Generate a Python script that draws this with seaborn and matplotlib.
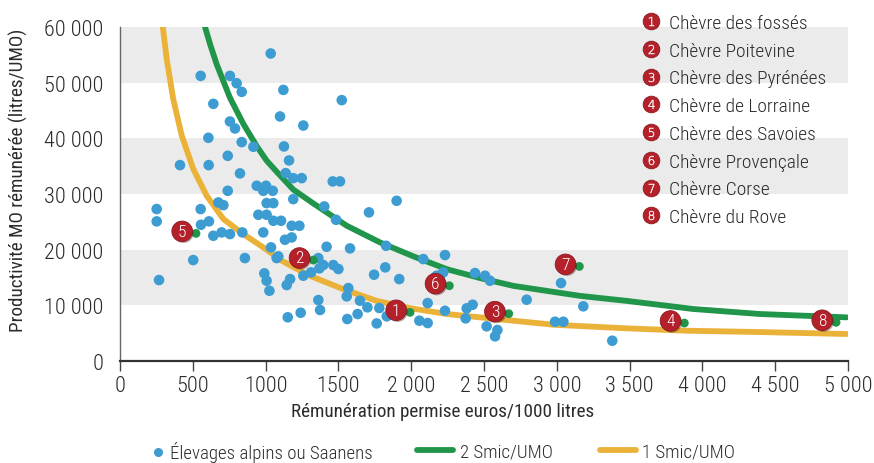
import matplotlib
matplotlib.use("Agg")
import matplotlib.pyplot as plt
import seaborn as sns
import pandas as pd
from matplotlib.lines import Line2D
from matplotlib import font_manager as fm
from matplotlib.ticker import FixedLocator, FixedFormatter, FuncFormatter
import matplotlib.patheffects as pe

# ---------------- data ----------------
alpine_x = [1035, 554, 755, 801, 836, 1122, 1523, 641, 1099, 1259, 755, 790, 607, 836, 916,
            1126, 1161, 740, 412, 609, 824, 1138, 1190, 1248, 1461, 1511, 939, 1003, 984, 1049,
            740, 1190, 1900, 1403, 1007, 1053, 675, 710, 252, 554,
            252, 556, 611, 1710, 950, 1007, 1053, 1106, 1179, 1232, 1484, 641, 698, 755, 840,
            984, 1133, 1179, 1037, 1419, 1580, 1827, 503, 858, 1076, 1087, 1362, 1396, 1369, 1465,
            1500, 1312, 1259, 1168, 1145, 991, 1007, 1026, 268, 1745, 1822, 1918, 1568, 1557, 1648,
            1362, 1374, 1241, 1152, 1561, 1632, 1699, 1781, 1763, 1832, 2056, 2113, 2113, 2083, 2175,
            2232, 2163, 2198, 2220, 2438, 2507, 2541, 2793, 3029, 3182, 2232, 2381, 2422, 2374, 2518,
            2592, 2576, 2988, 3045, 3381]
alpine_y = [55240, 51220, 51220, 49900, 48350, 48700, 46860, 46200, 43930, 42300, 43030, 41770, 40100, 39320, 38480,
            38540, 36030, 36860, 35190, 35190, 33700, 33750, 32850, 32850, 32260, 32260, 31480, 31480, 30580, 30580,
            30580, 29080, 28780, 27770, 28360, 28360, 28480, 28000, 27300, 27290,
            25080, 24470, 25080, 26700, 26270, 26270, 25190, 25190, 24290, 24290, 25370, 22500, 23100, 22800, 23100,
            23100, 21780, 22200, 20410, 20520, 20230, 20700, 18130, 18490, 18490, 18800, 18490, 17240, 16640, 17240,
            16520, 15920, 15320, 14720, 13640, 15740, 14420, 12620, 14540, 15500, 16820, 14720, 13100, 11610, 10830,
            10950, 9160, 8670, 7850, 7540, 8440, 9640, 9520, 6750, 8030, 7240, 6820, 10410, 18310, 15320,
            19030, 15030, 15320, 15920, 15800, 15320, 14420, 11010, 14000, 9820, 9030, 9460, 10110, 7660, 6230,
            5570, 4430, 7050, 7050, 3640]

breed_ids = ["1", "2", "3", "4", "5", "6", "7", "8"]
breed_names = ["Chèvre des fossés", "Chèvre Poitevine", "Chèvre des Pyrénées", "Chèvre de Lorraine",
               "Chèvre des Savoies", "Chèvre Provençale", "Chèvre Corse", "Chèvre du Rove"]
breed_x = [1992, 1328, 2670, 3876, 522, 2262, 3155, 4918]
breed_y = [8740, 18130, 8500, 6820, 22920, 13520, 16990, 6950]

smic2_x = [584, 620, 664, 755, 847, 939, 1007, 1076, 1190, 1328, 1557, 1786, 2015, 2244, 2473,
           2701, 2930, 3159, 3480, 3938, 4396, 4991]
smic2_y = [60000, 56800, 53300, 47300, 42600, 38600, 36000, 34000, 30800, 28300, 24300, 21300, 18800, 16500, 14900,
           13500, 12600, 11700, 10800, 9340, 8440, 7840]

smic1_x = [293, 321, 366, 424, 503, 595, 710, 847, 1007, 1099, 1168, 1305, 1534, 1763, 1992,
           2244, 2473, 2701, 2976, 3434, 3892, 4396, 4991]
smic1_y = [60200, 54200, 47000, 40500, 34500, 29700, 25500, 22800, 20000, 18200, 17200, 15300, 12900, 10800, 9500,
           8440, 7840, 7240, 6520, 5920, 5440, 5200, 4850]

y_ticks = [0, 10000, 20000, 30000, 40000, 50000, 60000]
x_ticks = [0, 500, 1000, 1500, 2000, 2500, 3000, 3500, 4000, 4500, 5000]
x_tick_labels = ["0", "500", "1000", "1500", "2 000", "2 500", "3 000", "3 500", "4 000", "4 500", "5 000"]

series_labels = ["Élevages alpins ou Saanens", "2 Smic/UMO", "1 Smic/UMO"]

# ---------------- style ----------------
BLUE = "#3d9cd2"
GREEN = "#21964a"
ORANGE = "#ebb23a"
RED = "#b5212b"
BAND = "#ebebeb"
TXT = "#2b2b2b"

sns.set_style("white")
names = {f.name for f in fm.fontManager.ttflist}
cond_dejavu = any(f.name == "DejaVu Sans" and f.stretch == "condensed" for f in fm.fontManager.ttflist)
FONT, STRETCH, SCALE = "DejaVu Sans", "normal", 0.85
for cand in ["Roboto Condensed", "Open Sans Condensed", "Liberation Sans Narrow"]:
    if cand in names:
        FONT, STRETCH, SCALE = cand, "normal", 1.0
        break
else:
    if cond_dejavu:
        FONT, STRETCH, SCALE = "DejaVu Sans", "condensed", 0.92
plt.rcParams["font.family"] = [FONT, "DejaVu Sans"]
plt.rcParams["font.stretch"] = STRETCH
plt.rcParams["font.weight"] = "light"

fs_tick = 16.0 * SCALE
fs_lab = 13.8 * SCALE
fs_leg = 14.0 * SCALE
fs_bot = 13.6 * SCALE

fig = plt.figure(figsize=(8.74, 4.64), dpi=100)
ax = fig.add_axes([120 / 874, 1 - 362 / 464, 728 / 874, 334 / 464])

for lo in (10000, 30000, 50000):
    ax.axhspan(lo, lo + 10000, color=BAND, lw=0, zorder=0)

curves = pd.DataFrame({"x": smic2_x, "y": smic2_y})
sns.lineplot(data=curves, x="x", y="y", ax=ax, color=GREEN, lw=4.2, estimator=None,
             solid_capstyle="round", zorder=2)
curves1 = pd.DataFrame({"x": smic1_x, "y": smic1_y})
sns.lineplot(data=curves1, x="x", y="y", ax=ax, color=ORANGE, lw=4.2, estimator=None,
             solid_capstyle="round", zorder=2)

pts = pd.DataFrame({"x": alpine_x, "y": alpine_y})
sns.scatterplot(data=pts, x="x", y="y", ax=ax, color=BLUE, s=58, edgecolor="none", zorder=3)

breeds = pd.DataFrame({"x": breed_x, "y": breed_y, "id": breed_ids})
sns.scatterplot(data=breeds, x="x", y="y", ax=ax, color=GREEN, s=40, edgecolor="none", zorder=4)
for bid, bx, by in zip(breed_ids, breed_x, breed_y):
    ax.annotate(bid, xy=(bx, by), xytext=(-10, 1.5), textcoords="offset points",
                ha="center", va="center", color="white", fontsize=12.5 * SCALE, zorder=6,
                bbox=dict(boxstyle="circle,pad=0.16", fc=RED, ec="#8a1a20", lw=0.6,
                          path_effects=[pe.SimplePatchShadow(offset=(1, -1), alpha=0.35), pe.Normal()]))

ax.set_xlim(0, 5000)
ax.set_ylim(0, 60000)
ax.xaxis.set_major_locator(FixedLocator(x_ticks))
ax.xaxis.set_major_formatter(FixedFormatter(x_tick_labels))
ax.yaxis.set_major_locator(FixedLocator(y_ticks))
ax.yaxis.set_major_formatter(FuncFormatter(lambda v, p: f"{int(v):,}".replace(",", " ")))
ax.tick_params(axis="x", direction="out", length=7, width=1, color="#444", pad=3,
               labelsize=fs_tick, labelcolor=TXT, bottom=True)
ax.tick_params(axis="y", length=0, pad=12, labelsize=fs_tick, labelcolor=TXT)
for s in ("top", "right"):
    ax.spines[s].set_visible(False)
ax.spines["left"].set_color("#666")
ax.spines["left"].set_linewidth(1.0)
ax.spines["bottom"].set_color("#333")
ax.spines["bottom"].set_linewidth(1.6)
ax.set_xlabel("Rémunération permise euros/1000 litres", fontsize=fs_lab, color=TXT)
ax.set_ylabel("Productivité MO rémunérée (litres/UMO)", fontsize=fs_lab, color=TXT)
ax.xaxis.set_label_coords((443 - 120) / 728, (362 - 403) / 334)
ax.yaxis.set_label_coords((28 - 120) / 728, (362 - 180) / 334)

# numbered breed legend (top right)
handles = []
for bid in breed_ids:
    handles.append((Line2D([], [], ls="", marker="o", ms=12, mfc=RED, mec="#8a1a20", mew=0.6),
                    Line2D([], [], ls="", marker=f"${bid}$", ms=6.5, mfc="white", mec="white", mew=0.3)))
leg = ax.legend(handles, breed_names, loc="upper left", bbox_to_anchor=(641 / 874, 1 - 15 / 464),
                bbox_transform=fig.transFigure, frameon=False, fontsize=fs_leg, handlelength=1.0,
                handletextpad=0.45, labelspacing=0.5, borderpad=0, borderaxespad=0)
for t in leg.get_texts():
    t.set_color(TXT)

# bottom legend (three entries laid out along one line)
bottom_handles = [Line2D([], [], ls="", marker="o", ms=5.5, color=BLUE),
                  Line2D([], [], color=GREEN, lw=4.2),
                  Line2D([], [], color=ORANGE, lw=4.2)]
bottom_left = [153, 417, 600]
bottom_hlen = [0.55, 1.9, 1.9]
for h, lab, left, hl in zip(bottom_handles, series_labels, bottom_left, bottom_hlen):
    lg = fig.legend([h], [lab], loc="center left", bbox_to_anchor=(left / 874, 11 / 464),
                    frameon=False, fontsize=fs_bot, handlelength=hl, handletextpad=0.35,
                    borderpad=0, borderaxespad=0)
    for t in lg.get_texts():
        t.set_color(TXT)

fig.savefig("out.png", dpi=100)
